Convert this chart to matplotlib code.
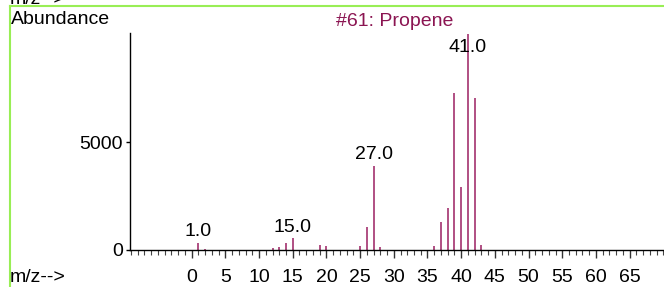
import numpy as np
import matplotlib
matplotlib.use("Agg")
import matplotlib.pyplot as plt
from matplotlib.lines import Line2D

plt.rcParams["font.family"] = ["Liberation Sans", "DejaVu Sans"]
plt.rcParams["font.size"] = 14

# ── data: propene mass spectrum ──
mz = [1, 2, 12, 13, 14, 15, 19, 20, 25, 26, 27, 28, 36, 37, 38, 39, 40, 41, 42, 43]
abund = [340, 50, 80, 150, 340, 540, 230, 185, 185, 1050, 3890, 125,
         185, 1280, 1930, 7254, 2900, 9999, 7023, 230]
labelled = [1, 15, 27, 41]
title = "#61: Propene"

W, H = 664, 287
fig = plt.figure(figsize=(W / 100, H / 100), dpi=100)

# axes placement in pixel terms
x0, x1 = 130, 664
y0, y1 = 250, 33
ax = fig.add_axes([x0 / W, 1 - y0 / H, (x1 - x0) / W, (y0 - y1) / H])

peak_col = "#9B1F62"
ax.vlines(mz, 0, abund, colors=peak_col, lw=1.1)

ymax = 10050
ax.set_xlim(-9.15, 70.1)
ax.set_ylim(0, ymax)

for m, a in zip(mz, abund):
    if m not in labelled:
        continue
    if a > 0.85 * ymax:
        ax.annotate(f"{m:.1f}", (m, ymax), xytext=(0, -4), textcoords="offset points",
                    ha="center", va="top")
    else:
        ax.annotate(f"{m:.1f}", (m, a), xytext=(0, 2), textcoords="offset points",
                    ha="center", va="bottom")

# axes styling
for s in ["top", "right"]:
    ax.spines[s].set_visible(False)
ax.spines["left"].set_linewidth(1.0)
ax.spines["bottom"].set_linewidth(1.0)

ax.set_xticks(np.arange(0, 70, 5))
ax.set_xticks(np.arange(-9, 71, 1), minor=True)
ax.set_yticks([0, 5000])
ax.tick_params(axis="x", which="major", length=6, width=1, color="#333333", pad=8)
ax.tick_params(axis="x", which="minor", length=3.5, width=0.8, color="#444444")
ax.tick_params(axis="y", which="major", length=3, width=1, pad=2)

# frame lines
green = "#99EE55"
fig.add_artist(Line2D([10 / W, 1], [1 - 6 / H, 1 - 6 / H], color=green, lw=1.5))
fig.add_artist(Line2D([10 / W, 10 / W], [0, 1 - 6 / H], color=green, lw=1.5))

# texts
fig.text(11 / W, 1 - 20 / H, "Abundance", va="center", ha="left")
fig.text(10 / W, 1 - 277 / H, "m/z-->", va="center", ha="left")
fig.text(10 / W, 1 - 4 / H, "m/z-->", va="baseline", ha="left")
fig.text(395 / W, 1 - 21 / H, title, va="center", ha="center", color="#8B1552")

fig.savefig("out.png", dpi=100)
